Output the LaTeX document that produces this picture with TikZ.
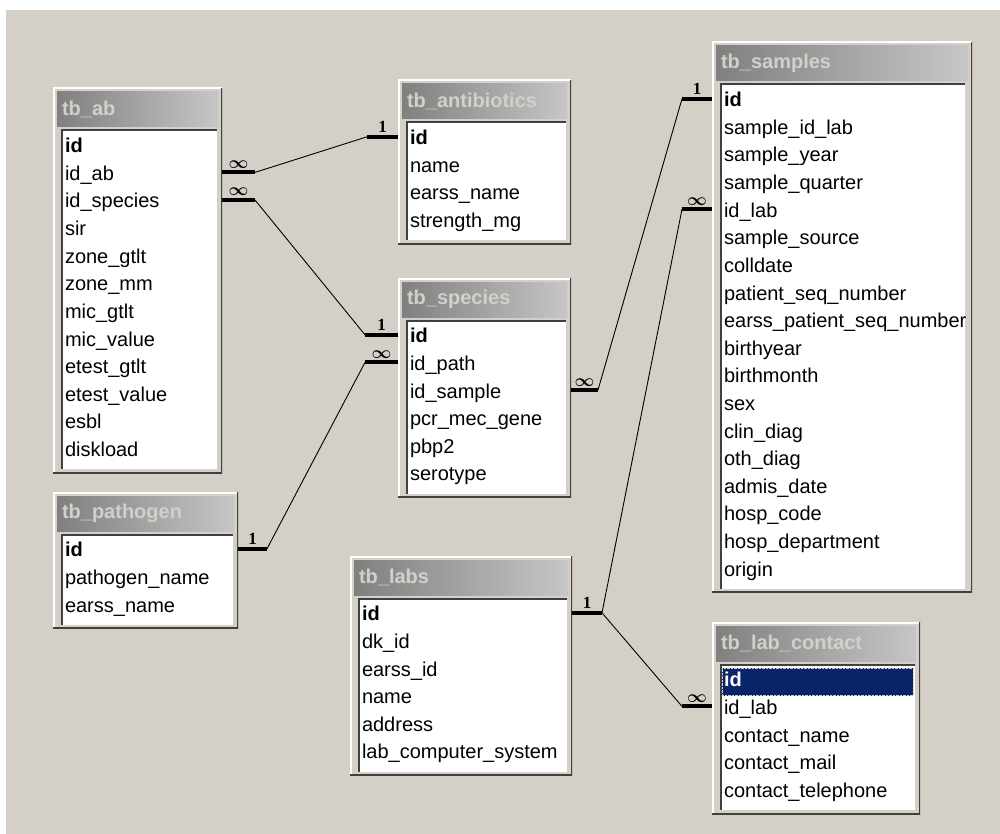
\documentclass[tikz,border=0pt]{standalone}
\usepackage{fontspec}
\setmainfont{Liberation Sans}
\newfontfamily\cardfont{Liberation Serif}
\usepackage{tikz}
\usetikzlibrary{calc, positioning}
\definecolor{winface}{HTML}{D4D0C8}
\definecolor{capdark}{HTML}{808080}
\definecolor{caplight}{HTML}{C6C6C6}
\definecolor{edgedark}{HTML}{404040}
\definecolor{selblue}{HTML}{0A246A}
\tikzset{
    tframe/.style={
        rectangle,
        fill=winface,
        inner sep=0pt,
        outer sep=0pt,
        anchor=north west,
        path picture={
            \draw[white, line width=3pt] (path picture bounding box.south west) |- (path picture bounding box.north east);
            \draw[edgedark, line width=3pt] (path picture bounding box.south west) -| (path picture bounding box.north east);
        }
    },
    titlebar/.style={
        rectangle,
        left color=capdark,
        right color=caplight,
        minimum height=35pt,
        inner xsep=5pt,
        inner ysep=0pt,
        outer sep=0pt,
        text width=#1,
        align=left,
        text=winface,
        font=\fontsize{20}{24}\selectfont\bfseries
    },
    tbody/.style={
        rectangle,
        fill=white,
        inner sep=0pt,
        outer sep=0pt,
        path picture={
            \draw[edgedark, line width=3pt] (path picture bounding box.south west) |- (path picture bounding box.north east);
        }
    },
    field/.style={
        rectangle,
        anchor=north west,
        inner xsep=4pt,
        inner ysep=0pt,
        outer sep=0pt,
        minimum height=27.6pt,
        text height=14pt,
        text depth=4pt,
        font=\fontsize{20}{24}\selectfont
    },
    keyfield/.style={
        field,
        font=\fontsize{20}{24}\selectfont\bfseries
    },
    selfield/.style={
        keyfield,
        fill=selblue,
        text=white,
        draw=winface,
        densely dotted,
        inner xsep=2pt,
        text width=#1,
        align=left
    },
    stub/.style={
        draw=black,
        line width=4pt
    },
    rel/.style={
        draw=black,
        line width=0.9pt
    },
    one/.style={
        font=\cardfont\fontsize{17}{17}\selectfont\bfseries,
        inner sep=1pt
    },
    many/.style={
        font=\fontsize{19}{19}\selectfont\boldmath,
        inner sep=1pt
    }
}

\begin{document}
\begin{tikzpicture}[x=1pt, y=-1pt]

% Workspace
\fill[white] (0,0) rectangle (1000,834);
\fill[winface] (6,10) rectangle (1000,834);
\useasboundingbox (0,0) rectangle (1000,834);

% tb_ab
\node[tframe, minimum width=169, minimum height=385.2] (ab) at (53,88) {};
\node[titlebar=151pt, below right=4pt and 4pt of ab.north west] (ab-t) {tb\_ab};
\node[tbody, minimum width=156, minimum height=339.2, below right=42pt and 8pt of ab.north west] (ab-b) {};
\node[keyfield, below right=4pt and 0pt of ab-b.north west] (ab-id) {id};
\node[field] (ab-idab) at (ab-id.south west) {id\_ab};
\node[field] (ab-idsp) at (ab-idab.south west) {id\_species};
\node[field] (ab-sir) at (ab-idsp.south west) {sir};
\node[field] (ab-zg) at (ab-sir.south west) {zone\_gtlt};
\node[field] (ab-zm) at (ab-zg.south west) {zone\_mm};
\node[field] (ab-mg) at (ab-zm.south west) {mic\_gtlt};
\node[field] (ab-mv) at (ab-mg.south west) {mic\_value};
\node[field] (ab-eg) at (ab-mv.south west) {etest\_gtlt};
\node[field] (ab-ev) at (ab-eg.south west) {etest\_value};
\node[field] (ab-esbl) at (ab-ev.south west) {esbl};
\node[field] (ab-disk) at (ab-esbl.south west) {diskload};

% tb_antibiotics
\node[tframe, minimum width=173, minimum height=164.4] (an) at (398,80) {};
\node[titlebar=155pt, below right=4pt and 4pt of an.north west] (an-t) {tb\_antibiotics};
\node[tbody, minimum width=160, minimum height=118.4, below right=42pt and 8pt of an.north west] (an-b) {};
\node[keyfield, below right=4pt and 0pt of an-b.north west] (an-id) {id};
\node[field] (an-name) at (an-id.south west) {name};
\node[field] (an-earss) at (an-name.south west) {earss\_name};
\node[field] (an-str) at (an-earss.south west) {strength\_mg};

% tb_species
\node[tframe, minimum width=173, minimum height=219.6] (sp) at (398,278) {};
\node[titlebar=155pt, below right=4pt and 4pt of sp.north west] (sp-t) {tb\_species};
\node[tbody, minimum width=160, minimum height=173.6, below right=42pt and 8pt of sp.north west] (sp-b) {};
\node[keyfield, below right=4pt and 0pt of sp-b.north west] (sp-id) {id};
\node[field] (sp-path) at (sp-id.south west) {id\_path};
\node[field] (sp-smp) at (sp-path.south west) {id\_sample};
\node[field] (sp-pcr) at (sp-smp.south west) {pcr\_mec\_gene};
\node[field] (sp-pbp) at (sp-pcr.south west) {pbp2};
\node[field] (sp-sero) at (sp-pbp.south west) {serotype};

% tb_pathogen
\node[tframe, minimum width=185, minimum height=136.8] (pa) at (53,492) {};
\node[titlebar=167pt, below right=4pt and 4pt of pa.north west] (pa-t) {tb\_pathogen};
\node[tbody, minimum width=172, minimum height=90.8, below right=42pt and 8pt of pa.north west] (pa-b) {};
\node[keyfield, below right=4pt and 0pt of pa-b.north west] (pa-id) {id};
\node[field] (pa-name) at (pa-id.south west) {pathogen\_name};
\node[field] (pa-earss) at (pa-name.south west) {earss\_name};

% tb_labs
\node[tframe, minimum width=222, minimum height=219.6] (la) at (350,556) {};
\node[titlebar=204pt, below right=4pt and 4pt of la.north west] (la-t) {tb\_labs};
\node[tbody, minimum width=209, minimum height=173.6, below right=42pt and 8pt of la.north west] (la-b) {};
\node[keyfield, below right=4pt and 0pt of la-b.north west] (la-id) {id};
\node[field] (la-dk) at (la-id.south west) {dk\_id};
\node[field] (la-earss) at (la-dk.south west) {earss\_id};
\node[field] (la-name) at (la-earss.south west) {name};
\node[field] (la-addr) at (la-name.south west) {address};
\node[field] (la-sys) at (la-addr.south west) {lab\_computer\_system};

% tb_samples
\node[tframe, minimum width=260, minimum height=550.8] (sm) at (712,42) {};
\node[titlebar=242pt, below right=4pt and 4pt of sm.north west] (sm-t) {tb\_samples};
\node[tbody, minimum width=245, minimum height=504.8, below right=42pt and 8pt of sm.north west] (sm-b) {};
\begin{scope}
\clip (sm-b.north west) rectangle (sm-b.south east);
\node[keyfield, below right=4pt and 0pt of sm-b.north west] (sm-id) {id};
\node[field] (sm-idlab) at (sm-id.south west) {sample\_id\_lab};
\node[field] (sm-year) at (sm-idlab.south west) {sample\_year};
\node[field] (sm-qtr) at (sm-year.south west) {sample\_quarter};
\node[field] (sm-lab) at (sm-qtr.south west) {id\_lab};
\node[field] (sm-src) at (sm-lab.south west) {sample\_source};
\node[field] (sm-coll) at (sm-src.south west) {colldate};
\node[field] (sm-pseq) at (sm-coll.south west) {patient\_seq\_number};
\node[field] (sm-eseq) at (sm-pseq.south west) {earss\_patient\_seq\_number};
\node[field] (sm-by) at (sm-eseq.south west) {birthyear};
\node[field] (sm-bm) at (sm-by.south west) {birthmonth};
\node[field] (sm-sex) at (sm-bm.south west) {sex};
\node[field] (sm-clin) at (sm-sex.south west) {clin\_diag};
\node[field] (sm-oth) at (sm-clin.south west) {oth\_diag};
\node[field] (sm-adm) at (sm-oth.south west) {admis\_date};
\node[field] (sm-hcode) at (sm-adm.south west) {hosp\_code};
\node[field] (sm-hdep) at (sm-hcode.south west) {hosp\_department};
\node[field] (sm-orig) at (sm-hdep.south west) {origin};
\end{scope}

% tb_lab_contact
\node[tframe, minimum width=208, minimum height=192] (lc) at (712,622) {};
\node[titlebar=190pt, below right=4pt and 4pt of lc.north west] (lc-t) {tb\_lab\_contact};
\node[tbody, minimum width=195, minimum height=146, below right=42pt and 8pt of lc.north west] (lc-b) {};
\node[selfield=187pt, below right=4pt and 2pt of lc-b.north west] (lc-id) {id};
\node[field] (lc-lab) at (lc-id.south west -| lc-b.west) {id\_lab};
\node[field] (lc-name) at (lc-lab.south west) {contact\_name};
\node[field] (lc-mail) at (lc-name.south west) {contact\_mail};
\node[field] (lc-tel) at (lc-mail.south west) {contact\_telephone};

% Join stubs
\draw[stub] ($(ab.east |- ab-idab)+(0,-3)$) -- ++(33,0) coordinate (ab-k1) node[midway, above=1pt, many] {$\infty$};
\draw[stub] ($(ab.east |- ab-idsp)+(0,-3)$) -- ++(33,0) coordinate (ab-k2) node[midway, above=1pt, many] {$\infty$};
\draw[stub] ($(an.west |- an-id)+(0,-3)$) -- ++(-31,0) coordinate (an-k1) node[midway, above=1pt, one] {1};
\draw[stub] ($(sp.west |- sp-id)+(0,-3)$) -- ++(-33,0) coordinate (sp-k1) node[midway, above=1pt, one] {1};
\draw[stub] ($(sp.west |- sp-path)+(0,-3)$) -- ++(-33,0) coordinate (sp-k2) node[midway, above=1pt, many] {$\infty$};
\draw[stub] ($(sp.east |- sp-smp)+(0,-3)$) -- ++(27,0) coordinate (sp-k3) node[midway, above=1pt, many] {$\infty$};
\draw[stub] ($(pa.east |- pa-id)+(0,-3)$) -- ++(29,0) coordinate (pa-k1) node[midway, above=1pt, one] {1};
\draw[stub] ($(sm.west |- sm-id)+(0,-3)$) -- ++(-30,0) coordinate (sm-k1) node[midway, above=1pt, one] {1};
\draw[stub] ($(sm.west |- sm-lab)+(0,-3)$) -- ++(-30,0) coordinate (sm-k2) node[midway, above=1pt, many] {$\infty$};
\draw[stub] ($(la.east |- la-id)+(0,-3)$) -- ++(30,0) coordinate (la-k1) node[midway, above=1pt, one] {1};
\draw[stub] ($(lc.west |- lc-lab)+(0,-3)$) -- ++(-30,0) coordinate (lc-k1) node[midway, above=1pt, many] {$\infty$};

% Relationships
\draw[rel] (ab-k1) -- (an-k1);
\draw[rel] (ab-k2) -- (sp-k1);
\draw[rel] (pa-k1) -- (sp-k2);
\draw[rel] (sp-k3) -- (sm-k1);
\draw[rel] (la-k1) -- (sm-k2);
\draw[rel] (la-k1) -- (lc-k1);

\end{tikzpicture}
\end{document}
